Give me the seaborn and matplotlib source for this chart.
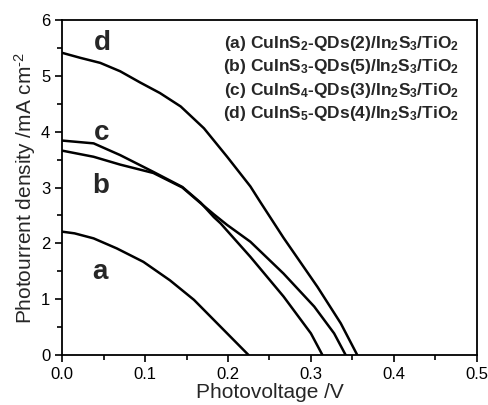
import numpy as np
import pandas as pd
import matplotlib
matplotlib.use("Agg")
import matplotlib.pyplot as plt
from matplotlib.ticker import MultipleLocator
import seaborn as sns

# J-V curves (photovoltage in V, photocurrent density in mA cm^-2)
v_a = [0.0, 0.015, 0.038, 0.066, 0.098, 0.130, 0.159, 0.179, 0.195, 0.225]
j_a = [2.21, 2.18, 2.09, 1.91, 1.67, 1.34, 0.99, 0.69, 0.45, 0.0]

v_b = [0.0, 0.038, 0.070, 0.110, 0.145, 0.167, 0.183, 0.199, 0.227, 0.267,
       0.304, 0.328, 0.342]
j_b = [3.66, 3.55, 3.41, 3.26, 3.00, 2.72, 2.52, 2.33, 2.03, 1.46,
       0.87, 0.39, 0.0]

v_c = [0.0, 0.038, 0.070, 0.110, 0.145, 0.167, 0.183, 0.191, 0.227, 0.267,
       0.300, 0.314]
j_c = [3.84, 3.79, 3.58, 3.28, 3.01, 2.73, 2.47, 2.36, 1.76, 1.05,
       0.39, 0.0]

v_d = [0.0, 0.022, 0.046, 0.070, 0.094, 0.118, 0.143, 0.171, 0.199, 0.227,
       0.239, 0.267, 0.308, 0.336, 0.356]
j_d = [5.41, 5.32, 5.23, 5.08, 4.88, 4.69, 4.45, 4.06, 3.55, 3.02,
       2.74, 2.10, 1.22, 0.57, 0.0]

curve_ids = ["a", "b", "c", "d"]
legend_lines = [
    r"(a) CuInS$_\mathbf{2}$-QDs(2)/In$_\mathbf{2}$S$_\mathbf{3}$/TiO$_\mathbf{2}$",
    r"(b) CuInS$_\mathbf{3}$-QDs(5)/In$_\mathbf{2}$S$_\mathbf{3}$/TiO$_\mathbf{2}$",
    r"(c) CuInS$_\mathbf{4}$-QDs(3)/In$_\mathbf{2}$S$_\mathbf{3}$/TiO$_\mathbf{2}$",
    r"(d) CuInS$_\mathbf{5}$-QDs(4)/In$_\mathbf{2}$S$_\mathbf{3}$/TiO$_\mathbf{2}$",
]
# curve letter positions (V, mA cm^-2)
letter_x = [0.046, 0.046, 0.048, 0.048]
letter_y = [1.49, 3.02, 3.97, 5.58]

df = pd.concat([
    pd.DataFrame({"V": v, "J": j, "curve": k})
    for v, j, k in zip([v_a, v_b, v_c, v_d], [j_a, j_b, j_c, j_d], curve_ids)
])

sns.set_theme(style="ticks")
plt.rcParams["font.family"] = ["Liberation Sans", "DejaVu Sans"]
plt.rcParams["mathtext.fontset"] = "custom"
plt.rcParams["mathtext.rm"] = "Liberation Sans"
plt.rcParams["mathtext.bf"] = "Liberation Sans:bold"
plt.rcParams["mathtext.default"] = "regular"

fig = plt.figure(figsize=(4.89, 4.05), dpi=100)
ax = fig.add_axes([0.127, 0.123, 0.848, 0.828])

sns.lineplot(data=df, x="V", y="J", hue="curve", units="curve", estimator=None,
             palette={k: "black" for k in curve_ids}, linewidth=1.8,
             legend=False, sort=False, ax=ax)

ax.set_xlim(0, 0.5)
ax.set_ylim(0, 6)
ax.xaxis.set_major_locator(MultipleLocator(0.1))
ax.xaxis.set_minor_locator(MultipleLocator(0.05))
ax.yaxis.set_major_locator(MultipleLocator(1))
ax.yaxis.set_minor_locator(MultipleLocator(0.5))
ax.tick_params(which="both", direction="out", top=False, right=False,
               width=1.2, colors="black", labelsize=12)
ax.tick_params(which="major", length=5)
ax.tick_params(which="minor", length=3.5)
for s in ax.spines.values():
    s.set_linewidth(1.3)
    s.set_color("black")
ax.set_xticklabels([f"{t:.1f}" for t in ax.get_xticks()])
ax.set_yticklabels([f"{t:.0f}" for t in ax.get_yticks()])

ax.set_xlabel("Photovoltage /V", fontsize=15, labelpad=1)
ax.set_ylabel("Photourrent density /mA cm$^{\\text{-}2}$", fontsize=15, labelpad=2)

for k, x, y in zip(curve_ids, letter_x, letter_y):
    ax.text(x, y, k, fontsize=20, fontweight="bold", ha="center", va="center")

for i, line in enumerate(legend_lines):
    ax.text(0.958, 0.93 - i * 0.07, line, transform=ax.transAxes,
            fontsize=12.5, fontweight="bold", ha="right", va="center")

fig.savefig("out.png", dpi=100)
